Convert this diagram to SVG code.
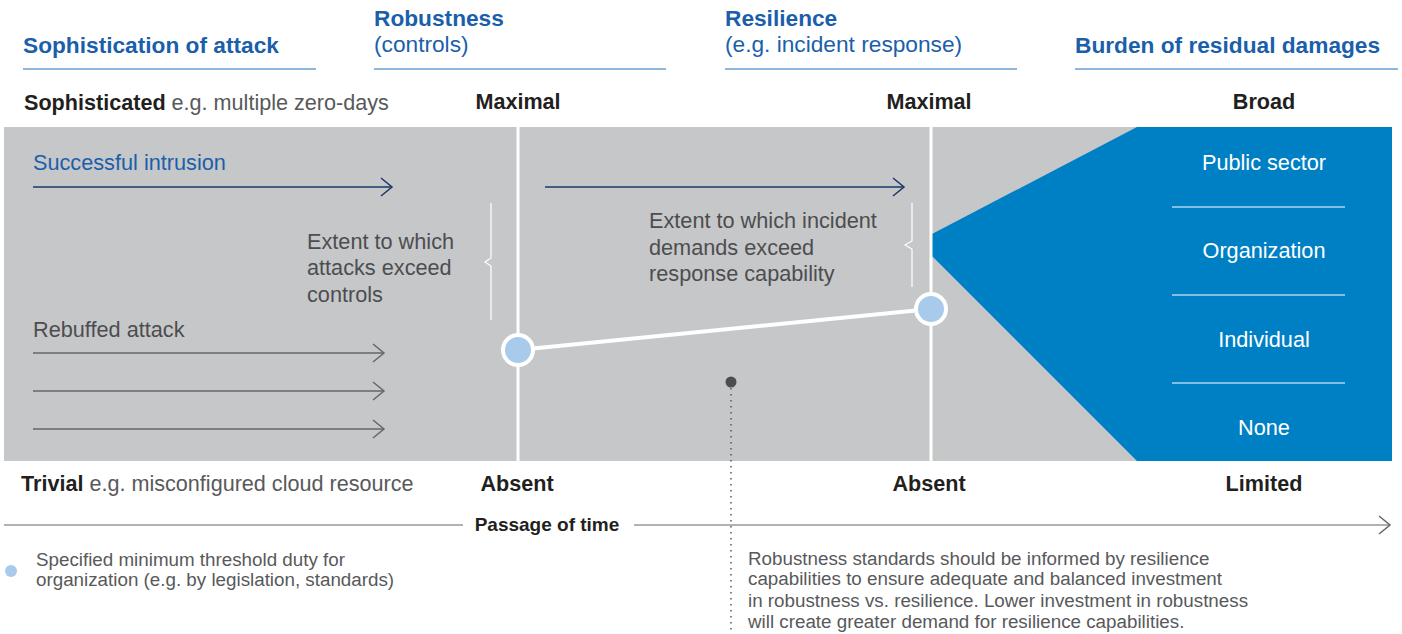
<svg xmlns="http://www.w3.org/2000/svg" width="1402" height="634" viewBox="0 0 1402 634">
<defs>
<style>
text{font-family:"Liberation Sans",Arial,sans-serif}
.hdr{font-size:22.7px;font-weight:bold;fill:#1b5faa}
.hsub{font-size:22.7px;fill:#1b5faa}
.hl{stroke:#6a9fd0;stroke-width:1.5}
.lbl{font-size:21.6px;font-weight:bold;fill:#231f20}
.lblr{font-size:21.6px;fill:#58595b;font-weight:normal}
.in{font-size:21.7px;fill:#4d4d4f}
.wt{font-size:21.7px;fill:#ffffff;text-anchor:middle}
.sm{font-size:18.8px;fill:#58595b}
.mid{text-anchor:middle}
.vl{stroke:#ffffff;stroke-width:3}
.br{stroke:#ffffff;stroke-width:1.2;fill:none}
.thr{fill:#a9cbeb;stroke:#ffffff;stroke-width:4}
</style>
<marker id="ahNavy" markerWidth="14" markerHeight="20" refX="12" refY="10" orient="auto" markerUnits="userSpaceOnUse"><path d="M1,1 L12,10 L1,19" fill="none" stroke="#1a3766" stroke-width="1.5"/></marker>
<marker id="ahGrey" markerWidth="14" markerHeight="20" refX="12" refY="10" orient="auto" markerUnits="userSpaceOnUse"><path d="M1,1 L12,10 L1,19" fill="none" stroke="#666666" stroke-width="1.5"/></marker>
</defs>
<rect width="1402" height="634" fill="#ffffff"/>

<g id="headers">
<text class="hdr" x="23" y="53">Sophistication of attack</text>
<line class="hl" x1="23" y1="69" x2="316" y2="69"/>
<text class="hdr" x="374" y="26">Robustness</text>
<text class="hsub" x="374" y="52">(controls)</text>
<line class="hl" x1="374" y1="69" x2="666" y2="69"/>
<text class="hdr" x="725" y="26">Resilience</text>
<text class="hsub" x="725" y="52">(e.g. incident response)</text>
<line class="hl" x1="725" y1="69" x2="1017" y2="69"/>
<text class="hdr" x="1075" y="53">Burden of residual damages</text>
<line class="hl" x1="1075" y1="69" x2="1398" y2="69"/>
</g>

<g id="scale-top">
<text class="lbl" x="24" y="110">Sophisticated<tspan class="lblr"> e.g. multiple zero-days</tspan></text>
<text class="lbl mid" x="518" y="109">Maximal</text>
<text class="lbl mid" x="929" y="109">Maximal</text>
<text class="lbl mid" x="1264" y="109">Broad</text>
</g>

<g id="panel">
<rect x="4" y="127" width="1388" height="334" fill="#c6c7c9"/>
<polygon points="1137,127 1392,127 1392,461 1137,461 932,256 932,234" fill="#0080c4"/>
<line class="vl" x1="518" y1="127" x2="518" y2="461"/>
<line class="vl" x1="931" y1="127" x2="931" y2="461"/>
</g>

<g id="attacks">
<text x="33" y="170" style="font-size:21.7px;fill:#1b5faa">Successful intrusion</text>
<text class="in" x="33" y="337">Rebuffed attack</text>
</g>

<g id="exceed-controls">
<text class="in" x="307" y="249">Extent to which</text>
<text class="in" x="307" y="275">attacks exceed</text>
<text class="in" x="307" y="302">controls</text>
<path class="br" d="M491,203 V258 L485,262 L491,266 V320"/>
</g>

<g id="exceed-response">
<text class="in" x="649" y="228">Extent to which incident</text>
<text class="in" x="649" y="255">demands exceed</text>
<text class="in" x="649" y="281">response capability</text>
<path class="br" d="M912,203 V241 L905,245 L912,249 V287"/>
</g>

<g id="damages">
<text class="wt" x="1264" y="170">Public sector</text>
<text class="wt" x="1264" y="258">Organization</text>
<text class="wt" x="1264" y="347">Individual</text>
<text class="wt" x="1264" y="435">None</text>
<line stroke="#ffffff" stroke-width="1.2" x1="1172" y1="207" x2="1345" y2="207"/>
<line stroke="#ffffff" stroke-width="1.2" x1="1172" y1="295" x2="1345" y2="295"/>
<line stroke="#ffffff" stroke-width="1.2" x1="1172" y1="383" x2="1345" y2="383"/>
</g>

<g id="connectors">
<line x1="33" y1="187" x2="392" y2="187" stroke="#1a3766" stroke-width="1.5" marker-end="url(#ahNavy)"/>
<line x1="545" y1="187" x2="904" y2="187" stroke="#1a3766" stroke-width="1.5" marker-end="url(#ahNavy)"/>
<line x1="33" y1="353" x2="384" y2="353" stroke="#666666" stroke-width="1.5" marker-end="url(#ahGrey)"/>
<line x1="33" y1="391" x2="384" y2="391" stroke="#666666" stroke-width="1.5" marker-end="url(#ahGrey)"/>
<line x1="33" y1="429" x2="384" y2="429" stroke="#666666" stroke-width="1.5" marker-end="url(#ahGrey)"/>
<line x1="518" y1="350" x2="931" y2="309" stroke="#ffffff" stroke-width="4"/>
<line x1="731" y1="382" x2="731" y2="634" stroke="#58595b" stroke-width="1.5" stroke-dasharray="1.5,4.5"/>
<line x1="4" y1="525" x2="463" y2="525" stroke="#666666" stroke-width="1.2"/>
<line x1="634" y1="525" x2="1390" y2="525" stroke="#666666" stroke-width="1.2" marker-end="url(#ahGrey)"/>
</g>

<g id="thresholds">
<circle class="thr" cx="518" cy="350" r="15"/>
<circle class="thr" cx="931" cy="309" r="15"/>
<circle cx="731" cy="382" r="5.5" fill="#4d4d4f"/>
</g>

<g id="scale-bottom">
<text class="lbl" x="21" y="491">Trivial<tspan class="lblr"> e.g. misconfigured cloud resource</tspan></text>
<text class="lbl mid" x="517" y="491">Absent</text>
<text class="lbl mid" x="929" y="491">Absent</text>
<text class="lbl mid" x="1264" y="491">Limited</text>
<text class="mid" x="547" y="531" style="font-size:19px;font-weight:bold;fill:#231f20">Passage of time</text>
</g>

<g id="legend">
<circle cx="11" cy="571" r="6" fill="#a9cbeb"/>
<text class="sm" x="36" y="566">Specified minimum threshold duty for</text>
<text class="sm" x="36" y="586">organization (e.g. by legislation, standards)</text>
</g>

<g id="note">
<text class="sm" x="748" y="565">Robustness standards should be informed by resilience</text>
<text class="sm" x="748" y="585">capabilities to ensure adequate and balanced investment</text>
<text class="sm" x="748" y="607">in robustness vs. resilience. Lower investment in robustness</text>
<text class="sm" x="748" y="628">will create greater demand for resilience capabilities.</text>
</g>
</svg>
